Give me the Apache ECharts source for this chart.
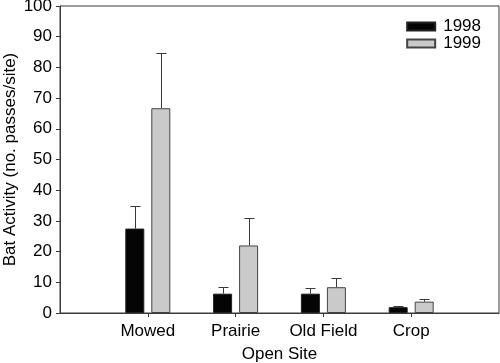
<!DOCTYPE html>
<html>
<head>
<meta charset="utf-8">
<script src="https://cdn.jsdelivr.net/npm/echarts@6/dist/echarts.min.js"></script>
<style>html,body{margin:0;padding:0;background:#fff}#c{width:500px;height:363px}</style>
</head>
<body>
<div id="c"></div>
<script>
var categories = ['', 'Mowed', 'Prairie', 'Old Field', 'Crop', ''];
var seriesNames = ['1998', '1999'];
var values1998 = ['-', 27.5, 6.3, 6.3, 1.9, '-'];
var values1999 = ['-', 66.7, 22.0, 8.4, 3.7, '-'];
var errTop1998 = ['-', 35.0, 8.4, 8.3, 2.3, '-'];
var errTop1999 = ['-', 84.7, 31.0, 11.4, 4.5, '-'];
var yTicks = [0, 10, 20, 30, 40, 50, 60, 70, 80, 90, 100];

var FONT = 'Liberation Sans, Arial, Helvetica, sans-serif';
var FS = 17;
var BAR_W = 19, BAR_GAP = 7, CAP_W = 10;

function errSeries(vals, tops, sign) {
  var data = [];
  for (var i = 0; i < vals.length; i++) {
    if (vals[i] !== '-') data.push([i, vals[i], tops[i]]);
  }
  return {
    type: 'custom',
    z: 3,
    silent: true,
    data: data,
    encode: { x: 0, y: [1, 2] },
    renderItem: function (params, api) {
      var i = api.value(0);
      var base = api.coord([i, api.value(1)]);
      var top = api.coord([i, api.value(2)]);
      var x = Math.round(base[0] + sign * (BAR_W + BAR_GAP) / 2) + 0.5;
      var ty = Math.round(top[1]) + 0.5;
      var st = { stroke: '#3a3a3a', lineWidth: 1 };
      return {
        type: 'group',
        children: [
          { type: 'line', shape: { x1: x, y1: base[1], x2: x, y2: ty }, style: st },
          { type: 'line', shape: { x1: x - CAP_W / 2, y1: ty, x2: x + CAP_W / 2, y2: ty }, style: st }
        ]
      };
    }
  };
}

var chart = echarts.init(document.getElementById('c'), null, { renderer: 'canvas' });
chart.setOption({
  animation: false,
  backgroundColor: '#fff',
  textStyle: { fontFamily: FONT },
  grid: { left: 60, top: 6, right: 1, bottom: 50, containLabel: false, outerBoundsMode: 'none', show: true, borderColor: '#3a3a3a', borderWidth: 1, backgroundColor: 'transparent' },
  legend: {
    data: seriesNames,
    orient: 'vertical',
    right: 14,
    top: 13,
    icon: 'rect',
    itemWidth: 28,
    itemHeight: 8,
    itemGap: 0,
    textStyle: { fontSize: FS, color: '#000', fontFamily: FONT, padding: [0, 0, 0, 3] }
  },
  xAxis: {
    type: 'category',
    data: categories,
    boundaryGap: false,
    name: 'Open Site',
    nameLocation: 'middle',
    nameGap: 33,
    nameMoveOverlap: false,
    nameTextStyle: { fontSize: FS, color: '#000', fontFamily: FONT },
    axisLine: { lineStyle: { color: '#3a3a3a', width: 1 } },
    axisTick: { length: 4, lineStyle: { color: '#3a3a3a' }, interval: function (i) { return i > 0 && i < categories.length - 1; } },
    axisLabel: { fontSize: FS, color: '#000', margin: 10, fontFamily: FONT, interval: 0 },
    splitLine: { show: false }
  },
  yAxis: {
    type: 'value',
    min: yTicks[0],
    max: yTicks[yTicks.length - 1],
    interval: yTicks[1] - yTicks[0],
    name: 'Bat Activity (no. passes/site)',
    nameLocation: 'middle',
    nameGap: 41,
    nameMoveOverlap: false,
    nameTextStyle: { fontSize: FS, color: '#000', fontFamily: FONT },
    axisLine: { show: true, lineStyle: { color: '#3a3a3a', width: 1 } },
    axisTick: { show: true, length: 4, lineStyle: { color: '#3a3a3a' } },
    axisLabel: { fontSize: FS, color: '#000', margin: 8, fontFamily: FONT },
    splitLine: { show: false }
  },
  series: [
    {
      name: seriesNames[0], type: 'bar', data: values1998,
      barWidth: BAR_W, barGap: (BAR_GAP / BAR_W * 100) + '%',
      itemStyle: { color: '#050505', borderColor: '#222', borderWidth: 1 }
    },
    {
      name: seriesNames[1], type: 'bar', data: values1999,
      barWidth: BAR_W, barGap: (BAR_GAP / BAR_W * 100) + '%',
      itemStyle: { color: '#cacaca', borderColor: '#444', borderWidth: 1 }
    },
    errSeries(values1998, errTop1998, -1),
    errSeries(values1999, errTop1999, 1)
  ]
});
</script>
</body>
</html>
